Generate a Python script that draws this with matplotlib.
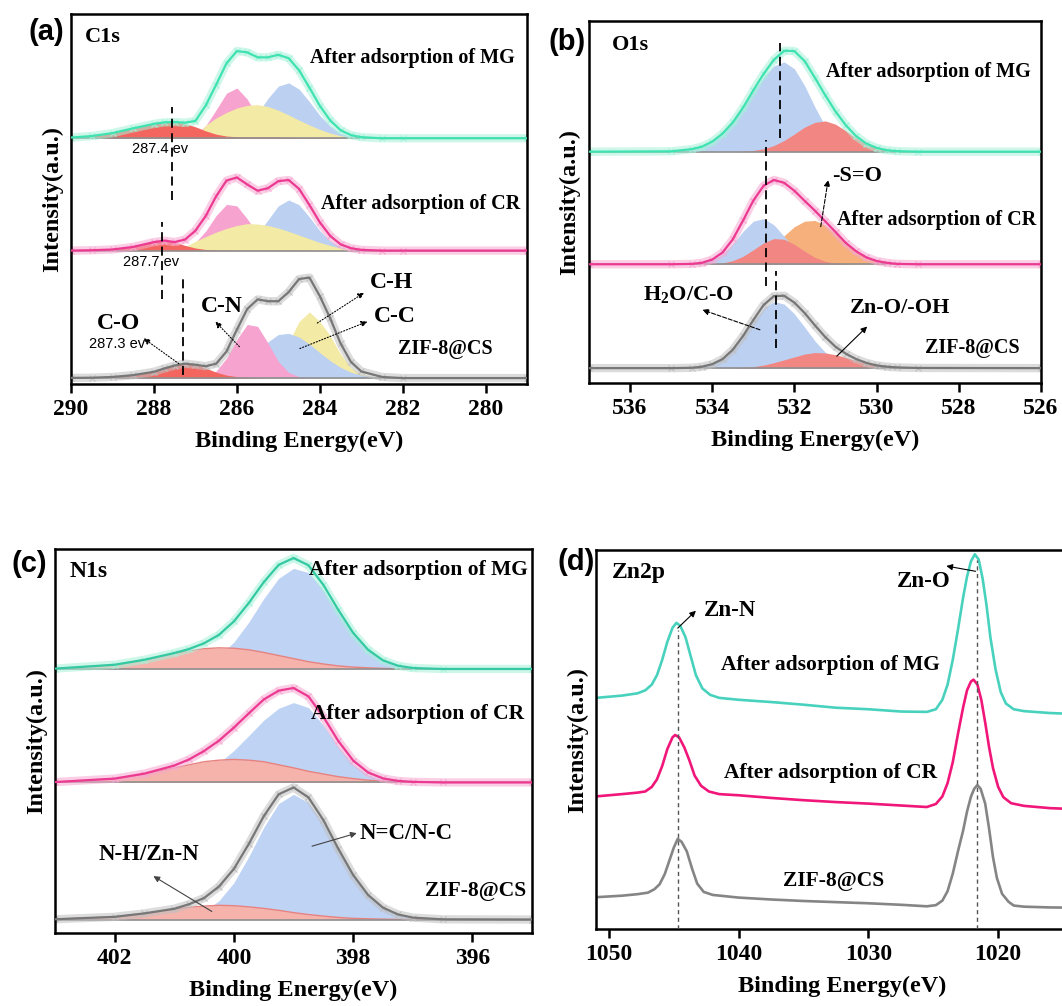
import matplotlib.pyplot as plt

plt.rcParams['font.family'] = ['Liberation Serif', 'DejaVu Serif']
plt.rcParams['font.weight'] = 'bold'
plt.rcParams['axes.labelweight'] = 'bold'
plt.rcParams['axes.linewidth'] = 1.8
plt.rcParams['mathtext.fontset'] = 'custom'
plt.rcParams['mathtext.rm'] = 'Liberation Serif:bold'
plt.rcParams['mathtext.it'] = 'Liberation Serif:bold'
plt.rcParams['mathtext.bf'] = 'Liberation Serif:bold'

SANS = 'Liberation Sans'

# ---------------- (a) C1s ----------------
c1s_be = [290.0, 289.5, 289.0, 288.5, 288.0, 287.75, 287.5, 287.25, 287.0, 286.75,
          286.5, 286.25, 286.0, 285.75, 285.5, 285.25, 285.0, 284.75, 284.5, 284.25,
          284.0, 283.75, 283.5, 283.25, 283.0, 282.5, 282.0, 279.0]
c1s_offsets = [66.5, 36.1, 1.6]   # MG, CR, ZIF-8@CS

c1s_mg_co = [0.2, 0.6, 1.4, 2.7, 3.9, 4.3, 4.4, 4.0, 3.1, 2.0, 1.1, 0.6, 0.4, 0.35,
             0.3, 0.3, 0.3, 0.25, 0.2, 0.2, 0.2, 0.15, 0.1, 0.05, 0, 0, 0, 0]
c1s_mg_cn = [0, 0, 0, 0, 0, 0, 0, 0.2, 1.1, 3.4, 7.7, 12.2, 13.6, 10.6, 5.8, 2.2,
             0.6, 0.1, 0, 0, 0, 0, 0, 0, 0, 0, 0, 0]
c1s_mg_ch = [0, 0, 0, 0, 0, 0, 0, 0, 0.5, 3.5, 5.5, 7.0, 8.2, 8.9, 9.1, 8.6, 7.6,
             6.3, 4.9, 3.6, 2.4, 1.4, 0.7, 0.3, 0.1, 0, 0, 0]
c1s_mg_cc = [0, 0, 0, 0, 0, 0, 0, 0, 0, 0, 0.2, 0.5, 1.4, 3.4, 6.7, 10.8, 14.1,
             15.0, 13.3, 9.9, 6.2, 3.3, 1.4, 0.5, 0.2, 0, 0, 0]

c1s_cr_co = [0, 0.1, 0.3, 1.0, 2.3, 2.7, 2.3, 1.4, 0.7, 0.3, 0.2, 0.15, 0.1, 0.1,
             0.1, 0.1, 0.1, 0.1, 0.1, 0.05, 0.05, 0, 0, 0, 0, 0, 0, 0]
c1s_cr_cn = [0, 0, 0, 0, 0, 0, 0, 0.6, 2.2, 5.3, 9.5, 12.5, 12.1, 8.6, 4.5, 1.7,
             0.5, 0.1, 0, 0, 0, 0, 0, 0, 0, 0, 0, 0]
c1s_cr_ch = [0, 0, 0, 0, 0, 0, 0, 1.0, 2.5, 3.8, 5.0, 6.0, 6.8, 7.3, 7.2, 6.8, 6.1,
             5.2, 4.2, 3.2, 2.2, 1.4, 0.7, 0.3, 0.1, 0, 0, 0]
c1s_cr_cc = [0, 0, 0, 0, 0, 0, 0, 0, 0, 0, 0, 0.3, 0.8, 1.9, 4.4, 8.3, 12.1, 13.7,
             12.4, 9.1, 5.4, 2.6, 1.0, 0.35, 0.1, 0, 0, 0]

c1s_zif_co = [0.05, 0.1, 0.3, 0.8, 1.7, 2.6, 3.4, 3.9, 3.6, 2.7, 1.6, 0.8, 0.4, 0.2,
              0.1, 0, 0, 0, 0, 0, 0, 0, 0, 0, 0, 0, 0, 0]
c1s_zif_cn = [0, 0, 0, 0, 0, 0, 0, 0, 0, 0.5, 1.9, 5.4, 10.5, 14.5, 14.0, 9.5, 4.5,
              1.5, 0.4, 0.1, 0, 0, 0, 0, 0, 0, 0, 0]
c1s_zif_cc = [0, 0, 0, 0, 0, 0, 0, 0, 0, 0, 0.4, 1.0, 2.2, 4.0, 6.8, 9.8, 11.8,
              12.1, 11.1, 9.2, 6.9, 4.7, 2.9, 1.6, 0.8, 0.2, 0, 0]
c1s_zif_ch = [0, 0, 0, 0, 0, 0, 0, 0, 0, 0, 0, 0, 0, 0, 0.4, 1.5, 4.5, 9.7, 15.3,
              17.9, 15.3, 11.5, 6.5, 2.8, 1.0, 0.1, 0, 0]

# ---------------- (b) O1s ----------------
o1s_be = [537.0, 535.0, 534.5, 534.25, 534.0, 533.75, 533.5, 533.25, 533.0, 532.75,
          532.5, 532.25, 532.0, 531.75, 531.5, 531.25, 531.0, 530.75, 530.5, 530.25,
          530.0, 529.75, 529.5, 529.0, 526.0]
o1s_offsets = [63.9, 32.8, 4.1]

o1s_mg_h2o = [0, 0.1, 0.7, 1.4, 2.8, 5.0, 8.1, 12.1, 16.6, 20.7, 23.7, 24.8, 22.9,
              18.2, 12.3, 7.1, 3.5, 1.5, 0.5, 0.15, 0.05, 0, 0, 0, 0]
o1s_mg_zno = [0, 0, 0, 0, 0, 0, 0, 0.1, 0.35, 0.8, 1.7, 3.1, 4.9, 6.8, 8.1, 8.5,
              7.6, 5.8, 3.8, 2.1, 1.0, 0.4, 0.15, 0, 0]

o1s_cr_h2o = [0, 0, 0.1, 0.4, 1.2, 2.8, 5.6, 9.1, 11.9, 12.6, 10.9, 7.7, 4.4, 2.0,
              0.8, 0.25, 0.1, 0, 0, 0, 0, 0, 0, 0, 0]
o1s_cr_zno = [0, 0, 0, 0, 0.1, 0.35, 1.0, 2.2, 4.0, 5.9, 7.1, 6.9, 5.5, 3.6, 1.9,
              0.8, 0.3, 0.1, 0, 0, 0, 0, 0, 0, 0]
o1s_cr_so = [0, 0, 0, 0, 0, 0.1, 0.3, 0.8, 1.7, 3.2, 5.3, 7.9, 10.4, 11.9, 12.1,
             10.8, 8.5, 5.8, 3.6, 1.9, 0.9, 0.4, 0.1, 0, 0]

o1s_zif_h2o = [0, 0, 0.1, 0.4, 1.1, 2.5, 5.0, 8.7, 12.9, 16.6, 18.4, 17.7, 15.0,
               11.3, 7.5, 4.4, 2.2, 1.0, 0.4, 0.15, 0, 0, 0, 0, 0]
o1s_zif_zno = [0, 0, 0, 0, 0, 0, 0.1, 0.2, 0.4, 0.85, 1.5, 2.3, 3.1, 3.9, 4.3, 4.2,
               3.7, 3.0, 2.1, 1.3, 0.75, 0.4, 0.2, 0.05, 0]

# ---------------- (c) N1s ----------------
n1s_be = [403.0, 402.0, 401.5, 401.0, 400.75, 400.5, 400.25, 400.0, 399.75, 399.5,
          399.25, 399.0, 398.75, 398.5, 398.25, 398.0, 397.75, 397.5, 397.25, 397.0,
          396.5, 395.0]
n1s_offsets = [68.75, 39.2, 3.5]

n1s_mg_nc = [0, 0, 0, 0.15, 0.5, 1.4, 3.4, 7.0, 12.2, 18.3, 23.6, 26.2, 25.1, 20.6,
             14.6, 8.9, 4.7, 2.1, 0.8, 0.25, 0, 0]
n1s_mg_nh = [0.1, 1.1, 2.4, 4.0, 4.7, 5.3, 5.5, 5.4, 5.0, 4.3, 3.5, 2.7, 1.9, 1.3,
             0.8, 0.5, 0.3, 0.15, 0.05, 0, 0, 0]
n1s_cr_nc = [0, 0, 0.1, 0.6, 1.4, 2.8, 5.1, 8.3, 12.2, 16.2, 19.3, 20.8, 19.5, 14.9,
             9.3, 4.7, 2.0, 0.7, 0.2, 0.05, 0, 0]
n1s_cr_nh = [0.1, 1.0, 2.2, 3.8, 4.6, 5.4, 5.8, 6.0, 5.8, 5.4, 4.6, 3.8, 2.9, 2.2,
             1.5, 1.0, 0.6, 0.35, 0.2, 0.1, 0, 0]
n1s_zif_nc = [0, 0, 0, 0.1, 0.8, 2.1, 4.9, 9.6, 16.4, 24.0, 30.2, 32.6, 30.5, 25.0,
              17.9, 11.3, 6.2, 3.0, 1.3, 0.5, 0.05, 0]
n1s_zif_nh = [0.07, 0.7, 1.6, 2.7, 3.2, 3.5, 3.7, 3.6, 3.3, 2.9, 2.4, 1.8, 1.3, 0.9,
              0.55, 0.3, 0.2, 0.1, 0.03, 0, 0, 0]

# ---------------- (d) Zn2p ----------------
zn_mg_be = [1051, 1049, 1047.8, 1047.2, 1046.7, 1046.3, 1045.9, 1045.5, 1045.1, 1044.8,
            1044.5, 1044.1, 1043.7, 1043.3, 1042.8, 1042.2, 1041.5, 1040, 1037.5, 1035,
            1032.5, 1030, 1027.5, 1025.5, 1024.8, 1024.3, 1023.9, 1023.5, 1023.1, 1022.7,
            1022.4, 1022.1, 1021.8, 1021.5, 1021.2, 1020.9, 1020.6, 1020.2, 1019.8, 1019.4,
            1018.8, 1018, 1016, 1013]
zn_mg = [61.0, 61.6, 62.2, 63.0, 64.5, 67.0, 71.0, 75.8, 79.5, 80.8,
         80.0, 77.0, 72.0, 67.0, 63.5, 61.8, 61.0, 60.5, 59.9, 59.2,
         58.4, 58.0, 57.4, 57.3, 58.0, 60.5, 64.5, 71.0, 79.0, 87.5,
         93.0, 97.0, 98.9, 97.5, 92.5, 85.5, 77.0, 68.5, 62.5, 59.5,
         58.0, 57.5, 57.0, 56.6]
zn_cr_be = [1051, 1049, 1047.8, 1047.2, 1046.7, 1046.3, 1045.9, 1045.5, 1045.1, 1044.9,
            1044.6, 1044.2, 1043.8, 1043.4, 1042.9, 1042.3, 1041.5, 1040, 1037.5, 1035,
            1032.5, 1030, 1027.5, 1025.5, 1024.8, 1024.3, 1023.9, 1023.5, 1023.1, 1022.7,
            1022.4, 1022.1, 1021.9, 1021.6, 1021.3, 1021.0, 1020.7, 1020.4, 1020.0, 1019.6,
            1019.0, 1018, 1016, 1013]
zn_cr = [35.0, 35.6, 36.0, 36.3, 37.5, 39.5, 43.0, 47.5, 50.6, 51.2,
         50.6, 48.0, 44.5, 40.5, 37.8, 36.3, 35.6, 35.3, 34.6, 34.0,
         33.5, 33.1, 32.6, 32.2, 33.0, 35.0, 38.5, 44.0, 51.5, 58.5,
         63.0, 65.3, 65.8, 64.5, 60.5, 54.5, 48.0, 42.5, 37.5, 34.8,
         33.2, 32.5, 31.9, 31.5]
zn_zif_be = [1051, 1049, 1047.8, 1047.0, 1046.5, 1046.1, 1045.7, 1045.4, 1045.0, 1044.7,
             1044.4, 1044.0, 1043.6, 1043.2, 1042.7, 1042.0, 1040, 1037.5, 1035, 1032.5,
             1030, 1027.5, 1025.5, 1024.8, 1024.3, 1023.9, 1023.5, 1023.1, 1022.7, 1022.4,
             1022.1, 1021.85, 1021.6, 1021.35, 1021.0, 1020.7, 1020.4, 1020.1, 1019.7, 1019.2,
             1018.8, 1018, 1016, 1013]
zn_zif = [8.4, 8.8, 9.2, 9.6, 10.5, 11.8, 14.5, 17.5, 21.5, 23.8,
          23.0, 20.5, 16.0, 12.0, 9.8, 9.0, 8.3, 7.8, 7.4, 7.1,
          6.8, 6.4, 6.0, 6.3, 7.5, 10.0, 14.6, 20.5, 26.0, 31.0,
          34.9, 37.0, 38.0, 37.0, 33.1, 26.5, 19.0, 13.5, 9.3, 7.2,
          6.2, 5.9, 5.7, 5.6]

# colours
RED, PINK, YELLOW, BLUE = '#f2665f', '#f6a3cf', '#f3eaa6', '#bcd0f2'
SALMON, ORANGE = '#f28682', '#f5b07c'
C_RED, C_RED_EDGE, C_BLUE = '#f5b3ac', '#e8827e', '#bfd3f5'
MG_LINE, MG_RAW = '#3fe2b0', '#a6f2da'
CR_LINE, CR_RAW = '#ec3a92', '#f6a8d0'
ZIF_LINE, ZIF_RAW = '#777777', '#c0c0c0'


def setup_axes(ax, xlim, xticks):
    ax.set_xlim(*xlim)
    ax.set_ylim(0, 100)
    ax.set_xticks(xticks)
    ax.set_yticks([])
    ax.tick_params(axis='x', direction='out', length=6.5, width=1.8, labelsize=17, pad=4)
    ax.set_xlabel('Binding Energy(eV)', fontsize=17.5, labelpad=8)
    ax.set_ylabel('Intensity(a.u.)', fontsize=17.5, labelpad=6)


def draw_fit(ax, be, comps, colors, offset, line_color, raw_color, edges=None):
    # components drawn in list order, later ones on top
    env = [sum(v) for v in zip(*comps)]
    for i, comp in enumerate(comps):
        top = [offset + v for v in comp]
        ax.fill_between(be, offset, top, color=colors[i], lw=0, zorder=1)
        if edges and edges[i]:
            ax.plot(be, top, color=edges[i], lw=1.0, zorder=1.2)
    ax.plot([be[0], be[-1]], [offset, offset], color='#8f8f8f', lw=1.2, zorder=1.5)
    y = [offset + v for v in env]
    ax.plot(be, y, color=raw_color, lw=6, alpha=0.55, zorder=2)
    ax.plot(be, y, ls='none', marker='x', ms=5, mew=0.8, color=raw_color, zorder=2)
    ax.plot(be, y, color=line_color, lw=1.6, zorder=3)


def label(ax, x, y, s, size=14.5):
    ax.text(x, y, s, ha='center', va='center', fontsize=size, fontweight='bold', zorder=5)


def arrow(ax, tail, head, ls='-', color='k'):
    ax.annotate('', xy=head, xytext=tail,
                arrowprops=dict(arrowstyle='-|>', color=color, lw=0.8, linestyle=ls,
                                mutation_scale=9, shrinkA=0, shrinkB=0))


def vdash(ax, x, y0, y1, color='k', lw=1.3, dashes=(5, 3)):
    ax.plot([x, x], [y0, y1], color=color, lw=lw, dashes=dashes, zorder=4)


fig = plt.figure(figsize=(10.62, 10.06), dpi=100)
ax_a = fig.add_axes([0.0669, 0.6183, 0.4294, 0.3673])
ax_b = fig.add_axes([0.5546, 0.6193, 0.4256, 0.3598])
ax_c = fig.add_axes([0.0518, 0.0726, 0.4492, 0.3817])
ax_d = fig.add_axes([0.5612, 0.0765, 0.4642, 0.3767])

# (a)
draw_fit(ax_a, c1s_be, [c1s_mg_cc, c1s_mg_cn, c1s_mg_ch, c1s_mg_co],
         [BLUE, PINK, YELLOW, RED], c1s_offsets[0], MG_LINE, MG_RAW)
draw_fit(ax_a, c1s_be, [c1s_cr_cc, c1s_cr_cn, c1s_cr_ch, c1s_cr_co],
         [BLUE, PINK, YELLOW, RED], c1s_offsets[1], CR_LINE, CR_RAW)
draw_fit(ax_a, c1s_be, [c1s_zif_ch, c1s_zif_cc, c1s_zif_cn, c1s_zif_co],
         [YELLOW, BLUE, PINK, RED], c1s_offsets[2], ZIF_LINE, ZIF_RAW)
setup_axes(ax_a, (290, 279), [290, 288, 286, 284, 282, 280])
vdash(ax_a, 287.57, 49.9, 75.0)
vdash(ax_a, 287.8, 22.9, 43.9)
vdash(ax_a, 287.29, 2.3, 28.4)
for x, y, s in [(287.85, 63.6, '287.4 ev'), (288.07, 32.9, '287.7 ev'), (288.9, 10.7, '287.3 ev')]:
    ax_a.text(x, y, s, ha='center', va='center', fontsize=10.5, family=SANS,
              fontweight='normal', zorder=5)
label(ax_a, 289.23, 93.8, 'C1s', 16)
label(ax_a, 281.77, 88.3, 'After adsorption of MG')
label(ax_a, 281.56, 48.7, 'After adsorption of CR')
label(ax_a, 280.98, 9.6, 'ZIF-8@CS')
label(ax_a, 288.86, 16.5, 'C-O', 17)
label(ax_a, 286.36, 21.0, 'C-N', 17)
label(ax_a, 282.27, 27.4, 'C-H', 17)
label(ax_a, 282.19, 18.3, 'C-C', 17)
arrow(ax_a, (287.4, 5.5), (288.25, 12.35), ':')
arrow(ax_a, (285.94, 10.1), (286.52, 16.9), ':')
arrow(ax_a, (284.06, 16.5), (282.93, 24.7), ':')
arrow(ax_a, (284.48, 9.6), (282.85, 16.9), ':')

# (b)
draw_fit(ax_b, o1s_be, [o1s_mg_h2o, o1s_mg_zno], [BLUE, SALMON],
         o1s_offsets[0], MG_LINE, MG_RAW)
draw_fit(ax_b, o1s_be, [o1s_cr_so, o1s_cr_h2o, o1s_cr_zno], [ORANGE, BLUE, SALMON],
         o1s_offsets[1], CR_LINE, CR_RAW)
draw_fit(ax_b, o1s_be, [o1s_zif_h2o, o1s_zif_zno], [BLUE, SALMON],
         o1s_offsets[2], ZIF_LINE, ZIF_RAW)
setup_axes(ax_b, (537, 526), [536, 534, 532, 530, 528, 526])
vdash(ax_b, 532.34, 67.6, 93.8)
vdash(ax_b, 532.69, 26.7, 67.1)
vdash(ax_b, 532.45, 9.7, 31.0)
label(ax_b, 535.98, 93.3, 'O1s', 16)
label(ax_b, 528.73, 85.9, 'After adsorption of MG')
label(ax_b, 528.53, 45.0, 'After adsorption of CR')
label(ax_b, 527.66, 9.65, 'ZIF-8@CS')
label(ax_b, 530.47, 57.2, '-S=O', 16)
label(ax_b, 534.57, 24.4, r'H$_{2}$O/C-O', 16)
label(ax_b, 529.44, 20.7, 'Zn-O/-OH', 16)
arrow(ax_b, (531.36, 43.2), (531.18, 56.1), '--')
arrow(ax_b, (532.84, 14.7), (534.24, 20.2), '--')
arrow(ax_b, (530.97, 7.4), (530.23, 15.6), '-')

# (c)
draw_fit(ax_c, n1s_be, [n1s_mg_nc, n1s_mg_nh], [C_BLUE, C_RED],
         n1s_offsets[0], '#34c9a2', MG_RAW, [None, C_RED_EDGE])
draw_fit(ax_c, n1s_be, [n1s_cr_nc, n1s_cr_nh], [C_BLUE, C_RED],
         n1s_offsets[1], CR_LINE, CR_RAW, [None, C_RED_EDGE])
draw_fit(ax_c, n1s_be, [n1s_zif_nc, n1s_zif_nh], [C_BLUE, C_RED],
         n1s_offsets[2], ZIF_LINE, ZIF_RAW, [None, C_RED_EDGE])
setup_axes(ax_c, (403, 395), [402, 400, 398, 396])
label(ax_c, 402.44, 94.2, 'N1s', 17)
label(ax_c, 396.9, 94.4, 'After adsorption of MG', 15.5)
label(ax_c, 396.92, 57.1, 'After adsorption of CR', 15.5)
label(ax_c, 395.95, 10.9, 'ZIF-8@CS', 15.5)
label(ax_c, 397.11, 26.0, 'N=C/N-C', 16.5)
label(ax_c, 401.43, 20.4, 'N-H/Zn-N', 16.5)
arrow(ax_c, (398.69, 22.6), (397.94, 26.0), '-', '#444444')
arrow(ax_c, (400.37, 5.6), (401.35, 14.8), '-', '#444444')

# (d)
ax_d.plot(zn_mg_be, zn_mg, color='#48d2bd', lw=1.9)
ax_d.plot(zn_cr_be, zn_cr, color='#f0167a', lw=1.9)
ax_d.plot(zn_zif_be, zn_zif, color='#858585', lw=1.9)
setup_axes(ax_d, (1051, 1013), [1050, 1040, 1030, 1020])
vdash(ax_d, 1044.67, 0, 79.0, '#555555', 1.0, (3, 2.5))
vdash(ax_d, 1021.64, 0, 97.5, '#555555', 1.0, (3, 2.5))
label(ax_d, 1047.7, 94.0, 'Zn2p', 17)
label(ax_d, 1040.7, 84.1, 'Zn-N', 16.5)
label(ax_d, 1025.7, 91.8, 'Zn-O', 16.5)
label(ax_d, 1032.9, 69.7, 'After adsorption of MG', 15.5)
label(ax_d, 1032.9, 41.3, 'After adsorption of CR', 15.5)
label(ax_d, 1032.7, 12.8, 'ZIF-8@CS', 15.5)
arrow(ax_d, (1044.7, 79.4), (1043.3, 84.0))
arrow(ax_d, (1021.74, 94.4), (1024.0, 95.8))

# panel tags
for x, y, s in [(0.0433, 0.968, '(a)'), (0.534, 0.958, '(b)'),
                (0.0273, 0.4394, '(c)'), (0.5424, 0.4414, '(d)')]:
    fig.text(x, y, s, ha='center', va='center', fontsize=21, family=SANS,
             fontweight='bold')

fig.savefig('out.png', dpi=100)
